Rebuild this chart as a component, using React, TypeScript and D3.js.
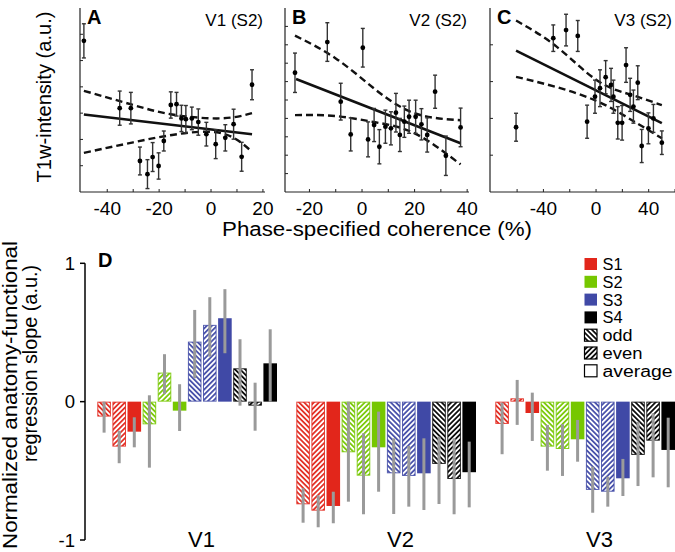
import React from 'react';
import * as d3 from 'd3';

const FONT = '"Liberation Sans", Arial, Helvetica, sans-serif';

// top panels: [coherence (%), T1w intensity (a.u.), error]
const v1Points = [
  [-49.0, 5.75, 0.65], [-35.2, 3.19, 0.65], [-30.9, 3.19, 0.6], [-27.4, 1.18, 0.53],
  [-24.5, 0.68, 0.55], [-22.5, 1.33, 0.55], [-20.2, 0.99, 0.5], [-18.2, 1.94, 0.38],
  [-15.5, 3.31, 0.5], [-13.3, 3.34, 0.45], [-11.4, 2.8, 0.5], [-9.7, 2.77, 0.52],
  [-7.4, 2.8, 0.43], [-4.9, 2.66, 0.5], [-1.8, 2.2, 0.45], [1.8, 1.82, 0.55],
  [5.5, 2.06, 0.5], [8.7, 2.58, 0.57], [11.8, 1.34, 0.55], [15.8, 4.08, 0.57],
];
const v1Fit = [[-49, 2.95], [15.8, 2.2]];
const v1Band = [[-49, 1.49, 3.85], [-30, 1.89, 3.31], [-15, 2.17, 2.95], [3.4, 2.25, 2.8], [15.8, 1.53, 3.0]];

const v2Points = [
  [-25.5, 6.48, 1.07], [-13.2, 8.15, 1.05], [-8.1, 4.91, 1.0], [-4.3, 3.13, 0.9],
  [0.3, 7.84, 1.05], [2.3, 2.86, 0.95], [4.6, 3.64, 0.9], [6.6, 2.46, 0.93],
  [8.9, 3.55, 0.9], [11.0, 3.46, 0.9], [12.9, 4.31, 1.05], [14.4, 3.1, 0.9],
  [16.1, 3.82, 0.85], [17.9, 4.09, 0.9], [20.4, 4.09, 0.9], [22.6, 3.68, 0.85],
  [24.8, 3.1, 0.93], [27.8, 5.45, 0.9], [31.9, 1.97, 1.07], [37.5, 3.51, 1.05],
];
const v2Fit = [[-25.1, 6.14], [37.5, 2.65]];
const v2Band = [[-25.5, 4.18, 8.5], [-10, 4.13, 7.26], [5, 3.79, 5.58], [20, 3.19, 4.28], [37.5, 1.5, 3.9]];

const v3Points = [
  [-60.8, 1.76, 0.38], [-32.5, 4.18, 0.36], [-22.8, 4.4, 0.43], [-13.9, 4.24, 0.42],
  [-6.8, 1.91, 0.45], [-0.8, 2.59, 0.45], [3.0, 2.82, 0.5], [7.3, 3.12, 0.45],
  [11.4, 2.91, 0.45], [13.2, 2.59, 0.45], [16.5, 1.88, 0.44], [19.8, 1.88, 0.47],
  [22.8, 3.45, 0.47], [25.9, 2.64, 0.45], [28.4, 2.32, 0.45], [31.7, 2.97, 0.46],
  [34.7, 1.25, 0.45], [39.8, 1.73, 0.42], [43.6, 2.0, 0.38], [50.0, 1.34, 0.32],
];
const v3Fit = [[-60.8, 3.84], [50, 1.87]];
const v3Band = [[-60.8, 3.13, 4.66], [-30, 2.85, 3.95], [0, 2.48, 3.05], [25, 2.0, 2.66], [50, 1.46, 2.36]];

// bottom panel
const areas = ['V1', 'V2', 'V3'];
const subjects = ['S1', 'S2', 'S3', 'S4'];
const kinds = ['odd', 'even', 'average'];
const subjectColors = ['#e2261b', '#76c700', '#4049a6', '#000000'];

// order within area: S1 odd, S1 even, S1 avg, S2 odd, ...
const slopeV1 = [-0.108, -0.325, -0.217, -0.164, 0.21, -0.065, 0.434, 0.555, 0.603, 0.241, -0.029, 0.277];
const slopeV2 = [-0.742, -0.788, -0.754, -0.366, -0.535, -0.33, -0.518, -0.537, -0.518, -0.45, -0.559, -0.51];
const slopeV3 = [-0.161, 0.024, -0.082, -0.325, -0.342, -0.272, -0.638, -0.651, -0.554, -0.385, -0.282, -0.349];
const errV1 = [[-0.224, 0], [-0.445, -0.21], [-0.33, -0.113], [-0.477, 0.046], [0.054, 0.343], [-0.212, 0.126],
  [0.169, 0.663], [0.325, 0.755], [0.35, 0.813], [-0.029, 0.451], [-0.21, 0.137], [0, 0.523]];
const errV2 = [[-0.875, -0.626], [-0.908, -0.677], [-0.879, -0.651], [-0.723, 0], [-0.814, -0.229], [-0.651, -0.072],
  [-0.812, -0.265], [-0.759, -0.32], [-0.783, -0.265], [-0.74, -0.253], [-0.814, -0.265], [-0.764, -0.289]];
const errV3 = [[-0.38, -0.007], [-0.168, 0.157], [-0.284, 0.065], [-0.499, -0.168], [-0.537, -0.163], [-0.434, -0.132],
  [-0.803, -0.47], [-0.759, -0.542], [-0.682, -0.414], [-0.61, -0.145], [-0.547, -0.084], [-0.619, -0.116]];

const panels = [
  { letter: 'A', title: 'V1 (S2)', pts: v1Points, fit: v1Fit, band: v1Band, x: [-50.5, 20.8], r: [80, 265], yMax: 7,
    ticks: d3.range(-40, 21, 10), labels: [-40, -20, 0, 20] },
  { letter: 'B', title: 'V2 (S2)', pts: v2Points, fit: v2Fit, band: v2Band, x: [-29.3, 40.7], r: [285, 469], yMax: 10,
    ticks: d3.range(-20, 41, 10), labels: [-20, 0, 20, 40] },
  { letter: 'C', title: 'V3 (S2)', pts: v3Points, fit: v3Fit, band: v3Band, x: [-80.6, 60], r: [490, 675], yMax: 5,
    ticks: d3.range(-60, 61, 20), labels: [-40, 0, 40] },
];

function Scatter({ p }) {
  const x = d3.scaleLinear().domain(p.x).range(p.r);
  const y = d3.scaleLinear().domain([0, p.yMax]).range([192, 8]);
  const fitLine = d3.line().x((d) => x(d[0])).y((d) => y(d[1]));
  const hi = d3.line().x((d) => x(d[0])).y((d) => y(d[2])).curve(d3.curveNatural);
  const lo = d3.line().x((d) => x(d[0])).y((d) => y(d[1])).curve(d3.curveNatural);
  return (
    <g>
      <line x1={p.r[0]} x2={p.r[0]} y1={8} y2={192} stroke="#222" strokeWidth={1.2} />
      <line x1={p.r[0]} x2={p.r[1]} y1={192} y2={192} stroke="#222" strokeWidth={1.2} />
      {d3.range(1, p.yMax).map((t) => (
        <line key={'y' + t} x1={p.r[0]} x2={p.r[0] + 3} y1={y(t)} y2={y(t)} stroke="#222" />
      ))}
      {p.ticks.map((t) => (
        <line key={'x' + t} x1={x(t)} x2={x(t)} y1={192} y2={189} stroke="#222" />
      ))}
      {p.labels.map((t) => (
        <text key={'l' + t} x={x(t)} y={214.5} textAnchor="middle" fontSize={19}>{t}</text>
      ))}
      <path d={hi(p.band)} fill="none" stroke="#111" strokeWidth={2.4} strokeDasharray="7,4" />
      <path d={lo(p.band)} fill="none" stroke="#111" strokeWidth={2.4} strokeDasharray="7,4" />
      <path d={fitLine(p.fit)} fill="none" stroke="#111" strokeWidth={2.6} />
      {p.pts.map((d, i) => (
        <g key={i} stroke="#333" strokeWidth={1.4}>
          <line x1={x(d[0])} x2={x(d[0])} y1={y(d[1] - d[2])} y2={y(d[1] + d[2])} />
          <line x1={x(d[0]) - 2} x2={x(d[0]) + 2} y1={y(d[1] - d[2])} y2={y(d[1] - d[2])} />
          <line x1={x(d[0]) - 2} x2={x(d[0]) + 2} y1={y(d[1] + d[2])} y2={y(d[1] + d[2])} />
          <circle cx={x(d[0])} cy={y(d[1])} r={2.4} fill="#000" stroke="none" />
        </g>
      ))}
      <text x={p.r[0] + 7} y={24} fontSize={20} fontWeight="bold">{p.letter}</text>
      <text x={p.letter === 'C' ? 672 : p.r[1] - 2} y={26} fontSize={17} textAnchor="end">{p.title}</text>
    </g>
  );
}

export default function App() {
  const slopes = [slopeV1, slopeV2, slopeV3];
  const errs = [errV1, errV2, errV3];
  const yb = d3.scaleLinear().domain([-1, 1]).range([540, 263.3]);
  const outer = d3.scaleBand().domain(areas).range([97.3, 97.3 + 597]);
  const inner = d3.scaleBand().domain(d3.range(12)).range([0, 179.7]).paddingInner(0.1).paddingOuter(0);
  const fillFor = (i) => {
    const k = i % 3;
    const s = Math.floor(i / 3);
    return k === 2 ? subjectColors[s] : `url(#h-${kinds[k]}-${s})`;
  };

  return (
    <svg width={675} height={552} style={{ position: 'absolute', left: 0, top: 0, fontFamily: FONT }}>
      <defs>
        {subjectColors.map((c, s) =>
          kinds.slice(0, 2).map((k) => (
            <pattern key={k + s} id={`h-${k}-${s}`} width={3.6} height={3.6} patternUnits="userSpaceOnUse"
              patternTransform={k === 'odd' ? 'rotate(-45)' : 'rotate(45)'}>
              <rect width={3.6} height={3.6} fill="#fff" />
              <line x1={1.8} x2={1.8} y1={0} y2={3.6} stroke={c} strokeWidth={1.7} />
            </pattern>
          ))
        )}
      </defs>

      {panels.map((p) => <Scatter key={p.letter} p={p} />)}
      <text transform="translate(50.5,97) rotate(-90)" textAnchor="middle" fontSize={19.5}
        textLength={171} lengthAdjust="spacingAndGlyphs">T1w-intensity (a.u.)</text>
      <text x={377} y={236} textAnchor="middle" fontSize={20}
        textLength={310} lengthAdjust="spacingAndGlyphs">Phase-specified coherence (%)</text>

      {/* panel D */}
      <text transform="translate(16.5,395) rotate(-90)" textAnchor="middle" fontSize={19.5}
        textLength={308} lengthAdjust="spacingAndGlyphs">Normalized anatomy-functional</text>
      <text transform="translate(37,363.5) rotate(-90)" textAnchor="middle" fontSize={19.5}
        textLength={197} lengthAdjust="spacingAndGlyphs">regression slope (a.u.)</text>
      <line x1={85} x2={85} y1={yb(-1)} y2={yb(1)} stroke="#000" strokeWidth={1.5} />
      {[-1, 0, 1].map((t) => (
        <g key={t}>
          <line x1={80} x2={85} y1={yb(t)} y2={yb(t)} stroke="#000" strokeWidth={1.5} />
          <text x={75} y={yb(t) + 6.5} textAnchor="end" fontSize={18.5}>{t}</text>
        </g>
      ))}
      <text x={98} y={267} fontSize={20} fontWeight="bold">D</text>

      {areas.map((a, g) => (
        <g key={a} transform={`translate(${outer(a)},0)`}>
          {slopes[g].map((v, i) => {
            const hatched = i % 3 !== 2;
            const c = subjectColors[Math.floor(i / 3)];
            const y0 = Math.min(yb(v), yb(0));
            const h = Math.abs(yb(v) - yb(0));
            return (
              <rect key={i} x={inner(i) + (hatched ? 0.5 : 0)} y={y0 + (hatched ? 0.5 : 0)}
                width={inner.bandwidth() - (hatched ? 1 : 0)} height={Math.max(h - (hatched ? 1 : 0), 0.5)}
                fill={fillFor(i)} stroke={hatched ? c : 'none'} strokeWidth={1} strokeOpacity={0.85} />
            );
          })}
          {errs[g].map((e, i) => (
            <line key={'e' + i} x1={inner(i) + inner.bandwidth() / 2} x2={inner(i) + inner.bandwidth() / 2}
              y1={yb(e[0])} y2={yb(e[1])} stroke="#9a9a9a" strokeWidth={3} />
          ))}
          <text x={inner(7) - 1.5} y={546.5} textAnchor="middle" fontSize={22}>{a}</text>
        </g>
      ))}

      {/* legend */}
      {[...subjects, ...kinds].map((lab, i) => {
        const cy = 264 + i * 17.8;
        const fill = i < 4 ? subjectColors[i] : i === 4 ? 'url(#h-odd-3)' : i === 5 ? 'url(#h-even-3)' : '#fff';
        return (
          <g key={lab}>
            <rect x={584.5} y={cy - 6} width={12.5} height={12} fill={fill}
              stroke={i < 4 ? 'none' : '#000'} strokeWidth={1.2} />
            <text x={602.5} y={cy + 6} fontSize={16} textLength={lab.length * 10}
              lengthAdjust="spacingAndGlyphs">{lab}</text>
          </g>
        );
      })}
    </svg>
  );
}
